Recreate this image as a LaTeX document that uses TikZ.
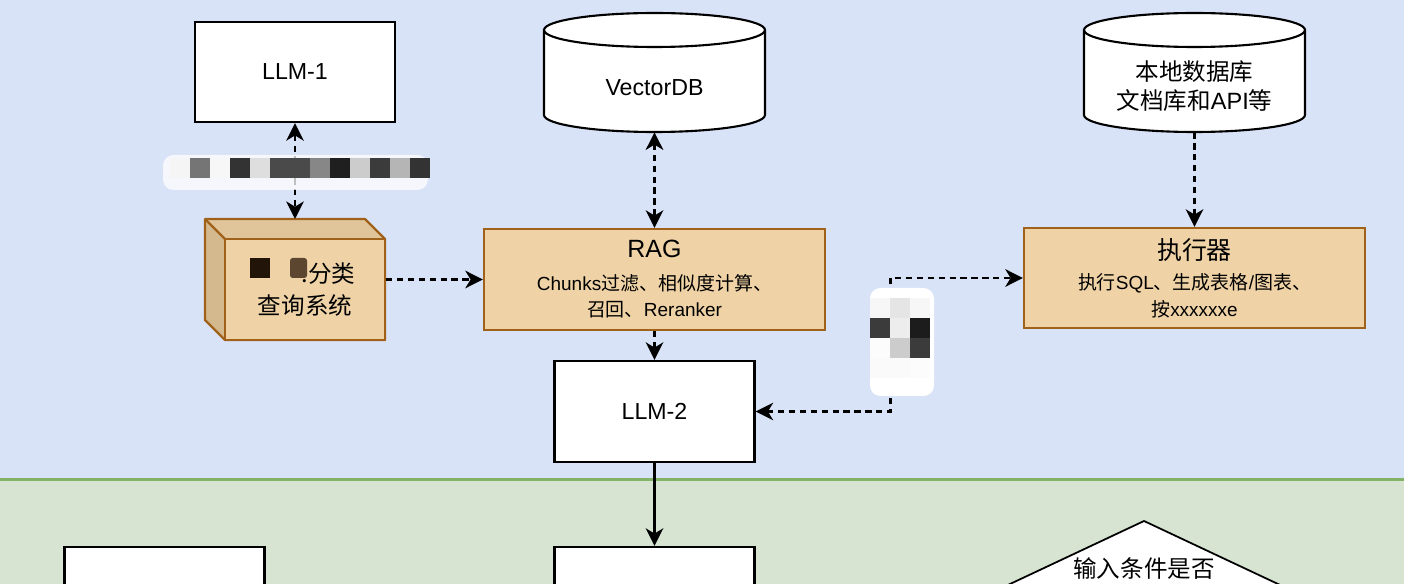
\documentclass[tikz,border=0pt]{standalone}
\usepackage{fontspec}
\setmainfont{Liberation Sans}
\newfontfamily\zh{Noto Sans CJK SC}
\usetikzlibrary{arrows.meta}

\definecolor{BgBlue}{HTML}{D9E3F8}
\definecolor{BgGreen}{HTML}{D6E4D1}
\definecolor{LineGreen}{HTML}{82B366}
\definecolor{Tan}{HTML}{EFD3A6}
\definecolor{TanTop}{HTML}{E0C59A}
\definecolor{TanSide}{HTML}{D4B98F}
\definecolor{Brown}{HTML}{A0621B}
\definecolor{HideA}{HTML}{221408}
\definecolor{HideB}{HTML}{5C4630}

\begin{document}
\begin{tikzpicture}[x=0.02cm, y=-0.02cm,
  >={Stealth[length=10pt, width=10pt, inset=3pt]},
  whitebox/.style={draw=black, line width=1.3pt, fill=white, minimum width=4cm, minimum height=2cm, font=\fontsize{13.2}{16}\selectfont},
  tanbox/.style={draw=Brown, line width=1.3pt, fill=Tan, minimum width=6.82cm, minimum height=2cm, align=center, font=\fontsize{10.8}{15.3}\selectfont},
  cylline/.style={draw=black, line width=1.2pt, fill=white},
  flow/.style={line width=1.3pt, dash pattern=on 3.6pt off 2.6pt},
  title/.style={font=\fontsize{14.2}{17}\selectfont}
]

 %%%%%%%%%% Page and backgrounds %%%%%%%%%%
 \useasboundingbox (0,0) rectangle (1404,584);
 \clip (0,0) rectangle (1404,584);
 \fill [BgBlue] (0,0) rectangle (1404,479);
 \fill [BgGreen] (0,479) rectangle (1404,584);
 \draw [LineGreen, line width=1.2pt] (0,479.5) -- (1404,479.5);

 %%%%%%%%%% Cylinders %%%%%%%%%%
 \draw [cylline] (544,30) -- (544,115) arc[start angle=180, end angle=360, x radius=2.21cm, y radius=0.34cm] -- (765,30) arc[start angle=0, end angle=180, x radius=2.21cm, y radius=0.34cm] -- cycle;
 \draw [line width=1.2pt] (544,30) arc[start angle=180, end angle=360, x radius=2.21cm, y radius=0.34cm];
 \node [minimum width=4.42cm, minimum height=2.38cm] (vdb) at (654.5,72.5) {};
 \node [font=\fontsize{13.2}{16}\selectfont] (vdbtext) at (654.5,88) {VectorDB};

 \draw [cylline] (1084,30) -- (1084,115) arc[start angle=180, end angle=360, x radius=2.21cm, y radius=0.34cm] -- (1305,30) arc[start angle=0, end angle=180, x radius=2.21cm, y radius=0.34cm] -- cycle;
 \draw [line width=1.2pt] (1084,30) arc[start angle=180, end angle=360, x radius=2.21cm, y radius=0.34cm];
 \node [minimum width=4.42cm, minimum height=2.38cm] (ldb) at (1194.5,72.5) {};
 \node [align=center, font=\fontsize{13.4}{16.4}\selectfont] (ldbtext) at (1194.5,86.5) {{\zh 本地数据库}\\{\zh 文档库和}API{\zh 等}};

 %%%%%%%%%% Boxes %%%%%%%%%%
 \node [whitebox] (llm1) at (295,72) {LLM-1};
 \node [whitebox, minimum height=2.02cm] (llm2) at (654.5,411.5) {LLM-2};

 \node [tanbox, minimum height=2.02cm] (rag) at (654.5,279.5) {{\fontsize{14.2}{17}\selectfont RAG}\\[3pt] Chunks{\zh 过滤、相似度计算、}\\{\zh 召回、}Reranker};
 \node [tanbox] (exec) at (1194.5,278) {{\zh\fontsize{14.2}{17}\selectfont 执行器}\\[2pt] {\zh 执行}SQL{\zh 、生成表格}/{\zh 图表、}\\{\zh 按}xxxxxxe};

 %%%%%%%%%% Cube %%%%%%%%%%
 \fill [TanSide] (205,219) -- (225,239) -- (225,340) -- (205,320) -- cycle;
 \fill [TanTop] (205,219) -- (365,219) -- (385,239) -- (225,239) -- cycle;
 \draw [Brown, line width=1.3pt, line join=round] (205,219) -- (365,219) -- (385,239) -- (385,340) -- (225,340) -- (205,320) -- cycle;
 \draw [Brown, line width=1.3pt] (205,219) -- (225,239);
 \node [tanbox, minimum width=3.2cm, minimum height=2.02cm, font=\fontsize{13.4}{18}\selectfont] (cube) at (305,289.5) {\phantom{\zh 分类}{\zh .分类}\\{\zh 查询系统}};
 \fill [HideA] (250,258) rectangle (270,278);
 \fill [HideB, rounded corners=1.5pt] (290,258) rectangle (307,278);
 \coordinate (cubetop) at (295,219);

 %%%%%%%%%% Connectors %%%%%%%%%%
 \draw [flow, <->] (llm1.south) -- (cubetop);
 \draw [flow, ->] (cube.east |- rag.west) -- (rag.west);
 \draw [flow, <->] (vdb.south) -- (rag.north);
 \draw [flow, ->] (ldb.south) -- (exec.north);
 \draw [flow, ->] (rag.south) -- (llm2.north);
 \draw [flow, <->] (llm2.east) -- ++(135,0) |- (exec.west);

 %%%%%%%%%% Hidden labels %%%%%%%%%%
 \fill [white, opacity=0.75, rounded corners=6pt] (163,155) rectangle (428,190);
 \foreach \p [count=\i from 0] in {4,54,3,80,13,71,71,47,88,20,77,29,80}
   \fill [black!\p] ({170+20*\i},158) rectangle ++(20,20);

 \fill [white, rounded corners=6pt] (870,288) rectangle (934,396);
 \foreach \p [count=\i from 0] in {3,10,3,77,7,89,1,20,77,2,2,1}
   \fill [black!\p] ({870+20*mod(\i,3)},{298+20*int(\i/3)}) rectangle ++(20,20);

 %%%%%%%%%% Lower part %%%%%%%%%%
 \node [whitebox] (left) at (164.5,597) {};
 \node [whitebox] (mid) at (654.5,597) {};
 \draw [line width=1.3pt, ->] (llm2.south) -- (mid.north);

 \draw [line width=1pt, fill=white] (1144,521) -- (1278,584) -- (1144,647) -- (1010,584) -- cycle;
 \node [font=\fontsize{13.4}{16}\selectfont] (cond) at (1144,569) {\zh 输入条件是否};

\end{tikzpicture}
\end{document}
